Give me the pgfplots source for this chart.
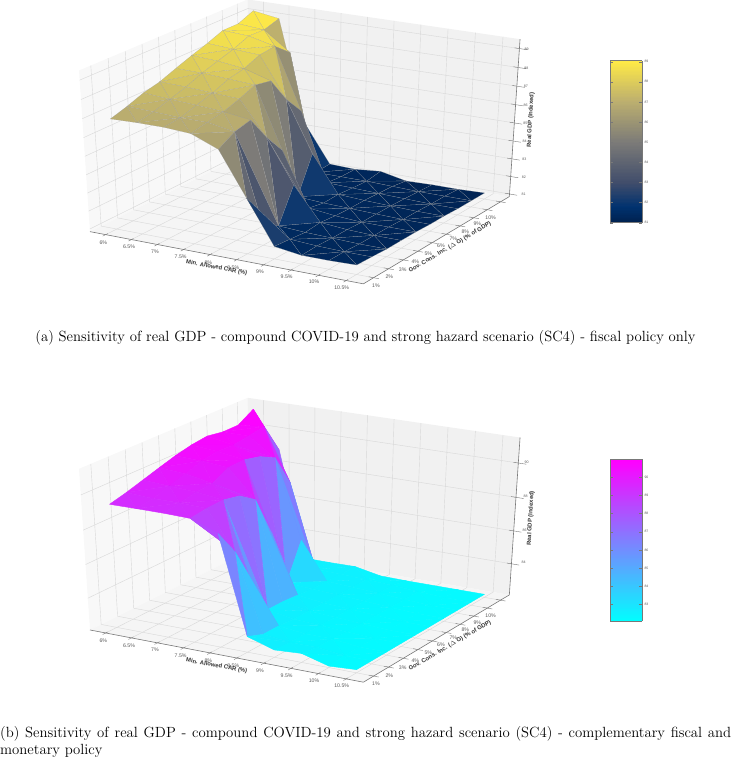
\documentclass[border=0pt]{standalone}
\usepackage{fontspec}
\usepackage{pgfplots}
\usepackage{pgfplotstable}
\pgfplotsset{compat=1.18}
\newfontfamily\lsans{Liberation Sans}
\definecolor{gridc}{RGB}{216,216,216}
\definecolor{edgec}{RGB}{120,120,120}
\definecolor{labc}{RGB}{90,90,90}
\definecolor{paneL}{RGB}{248,248,248}
\definecolor{paneF}{RGB}{245,245,245}
\definecolor{paneB}{RGB}{241,241,241}
\pgfplotsset{
  colormap={cividisc}{rgb255(0)=(0,32,77) rgb255(10)=(0,50,111) rgb255(25)=(65,77,107) rgb255(50)=(124,123,120) rgb255(75)=(188,175,111) rgb255(100)=(255,234,70)},
  colormap={coolc}{rgb255(0)=(0,255,255) rgb255(100)=(255,0,255)},
  page/.style={at={(0,0)},anchor=south west,scale only axis,width=731pt,height=760pt,
    xmin=0,xmax=731,ymin=0,ymax=760,hide axis,clip=false},
  cb/.style={colorbar sampled,colorbar style={samples=120,at={(#1)},anchor=south west,width=32pt,height=162pt,
    axis line style={draw=edgec,line width=.5pt},
    ytick style={draw=edgec,line width=.3pt},
    major tick length=3pt,
    yticklabel style={font=\lsans\fontsize{3.4}{4}\selectfont,text=labc,xshift=-1pt},
    /pgf/number format/assume math mode=true}}
}
\def\PX{px(U(\thisrow{car}),V(\thisrow{gov}),W(\thisrow{gdp}))}
\def\PY{760-\off-py(U(\thisrow{car}),V(\thisrow{gov}),W(\thisrow{gdp}))}
\newcommand\lab[4][0]{\node[rotate=#1,text=labc,font=\lsans\fontsize{5.2}{6}\selectfont,inner sep=0pt] at (axis cs:{60+#2/3},{760-#3/3-\off}) {#4};}
\newcommand\alab[4][0]{\node[rotate=#1,text=black!80,font=\lsans\bfseries\fontsize{5.9}{7}\selectfont,inner sep=0pt] at (axis cs:{60+#2/3},{760-#3/3-\off}) {#4};}
\newcommand\zlab[3]{\node[text=labc,font=\lsans\fontsize{3.6}{4}\selectfont,inner sep=0pt] at (axis cs:{60+#1/3},{760-#2/3-\off}) {#3};}
% box: faces, grid, edges
\newcommand\myframe[3]{% zmin zmax ticks
  \addplot[fill=paneL,draw=none] table[x expr=\PX,y expr=\PY,row sep=\\]{car gov gdp\\ 5.693 .328 #1\\ 5.693 10.672 #1\\ 5.693 10.672 #2\\ 5.693 .328 #2\\ 5.693 .328 #1\\};
  \addplot[fill=paneB,draw=none] table[x expr=\PX,y expr=\PY,row sep=\\]{car gov gdp\\ 5.693 10.672 #1\\ 10.807 10.672 #1\\ 10.807 10.672 #2\\ 5.693 10.672 #2\\ 5.693 10.672 #1\\};
  \addplot[fill=paneF,draw=none] table[x expr=\PX,y expr=\PY,row sep=\\]{car gov gdp\\ 5.693 .328 #1\\ 10.807 .328 #1\\ 10.807 10.672 #1\\ 5.693 10.672 #1\\ 5.693 .328 #1\\};
  \pgfplotsinvokeforeach{6,6.5,7,7.5,8,8.5,9,9.5,10,10.5}{
    \addplot[gridc,line width=.4pt] table[x expr=\PX,y expr=\PY,row sep=\\]{car gov gdp\\ ##1 .328 #1\\ ##1 10.672 #1\\ ##1 10.672 #2\\};
    \addplot[edgec,line width=.4pt] table[x expr=\PX,y expr=\PY,row sep=\\]{car gov gdp\\ ##1 .15 #1\\ ##1 .45 #1\\};
  }
  \pgfplotsinvokeforeach{1,2,3,4,5,6,7,8,9,10}{
    \addplot[gridc,line width=.4pt] table[x expr=\PX,y expr=\PY,row sep=\\]{car gov gdp\\ 10.807 ##1 #1\\ 5.693 ##1 #1\\ 5.693 ##1 #2\\};
    \addplot[edgec,line width=.4pt] table[x expr=\PX,y expr=\PY,row sep=\\]{car gov gdp\\ 10.9 ##1 #1\\ 10.72 ##1 #1\\};
  }
  \pgfplotsinvokeforeach{#3}{
    \addplot[gridc,line width=.4pt] table[x expr=\PX,y expr=\PY,row sep=\\]{car gov gdp\\ 5.693 .328 ##1\\ 5.693 10.672 ##1\\ 10.807 10.672 ##1\\};
    \addplot[edgec,line width=.4pt] table[x expr=\PX,y expr=\PY,row sep=\\]{car gov gdp\\ 10.72 10.672 ##1\\ 10.95 10.672 ##1\\};
  }
  \addplot[edgec,line width=.6pt] table[x expr=\PX,y expr=\PY,row sep=\\]{car gov gdp\\ 5.693 .328 #1\\ 10.807 .328 #1\\ 10.807 10.672 #1\\ 10.807 10.672 #2\\};
}
\newcommand\mytlabels{
  \lab{130}{727}{6\%}\lab{207}{741}{6.5\%}\lab{285}{755}{7\%}\lab{362}{771}{7.5\%}\lab{445}{787}{8\%}
  \lab{520}{803}{8.5\%}\lab{600}{816}{9\%}\lab{680}{831}{9.5\%}\lab{762}{846}{10\%}\lab{845}{862}{10.5\%}
  \lab{948}{856}{1\%}\lab{988}{831}{2\%}\lab{1028}{808}{3\%}\lab{1066}{786}{4\%}\lab{1105}{762}{5\%}
  \lab{1143}{738}{6\%}\lab{1180}{717}{7\%}\lab{1216}{694}{8\%}\lab{1252}{672}{9\%}\lab{1292}{652}{10\%}
  \alab[-10.5]{470}{803}{Min. Allowed CAR (\%)}
  \alab[30.5]{1170}{742}{Gov. Cons. Inc. ($\Delta$ G) (\% of GDP)}
  \alab[87]{1412}{360}{Real GDP (Indexed)}
}
\def\tris{
91 81 90\\ 80 81 90\\ 81 91 92\\ 81 82 92\\ 93 83 92\\ 82 83 92\\ 83 93 94\\ 83 84 94\\ 95 85 94\\ 84 85 94\\ 85 95 96\\ 85 86 96\\ 97 87 96\\ 86 87 96\\ 87 97 98\\ 87 88 98\\ 99 89 98\\ 88 89 98\\
70 80 81\\ 70 71 81\\ 82 72 81\\ 71 72 81\\ 72 82 83\\ 72 73 83\\ 84 74 83\\ 73 74 83\\ 74 84 85\\ 74 75 85\\ 86 76 85\\ 75 76 85\\ 76 86 87\\ 76 77 87\\ 88 78 87\\ 77 78 87\\ 78 88 89\\ 78 79 89\\
71 61 70\\ 60 61 70\\ 61 71 72\\ 61 62 72\\ 73 63 72\\ 62 63 72\\ 63 73 74\\ 63 64 74\\ 75 65 74\\ 64 65 74\\ 65 75 76\\ 65 66 76\\ 77 67 76\\ 66 67 76\\ 67 77 78\\ 67 68 78\\ 79 69 78\\ 68 69 78\\
50 60 61\\ 50 51 61\\ 62 52 61\\ 51 52 61\\ 52 62 63\\ 52 53 63\\ 64 54 63\\ 53 54 63\\ 54 64 65\\ 54 55 65\\ 66 56 65\\ 55 56 65\\ 56 66 67\\ 56 57 67\\ 68 58 67\\ 57 58 67\\ 58 68 69\\ 58 59 69\\
51 41 50\\ 40 41 50\\ 41 51 52\\ 41 42 52\\ 53 43 52\\ 42 43 52\\ 43 53 54\\ 43 44 54\\ 55 45 54\\ 44 45 54\\ 45 55 56\\ 45 46 56\\ 57 47 56\\ 46 47 56\\ 47 57 58\\ 47 48 58\\ 59 49 58\\ 48 49 58\\
30 40 41\\ 30 31 41\\ 42 32 41\\ 31 32 41\\ 32 42 43\\ 32 33 43\\ 44 34 43\\ 33 34 43\\ 34 44 45\\ 34 35 45\\ 46 36 45\\ 35 36 45\\ 36 46 47\\ 36 37 47\\ 48 38 47\\ 37 38 47\\ 38 48 49\\ 38 39 49\\
31 21 30\\ 20 21 30\\ 21 31 32\\ 21 22 32\\ 33 23 32\\ 22 23 32\\ 23 33 34\\ 23 24 34\\ 35 25 34\\ 24 25 34\\ 25 35 36\\ 25 26 36\\ 37 27 36\\ 26 27 36\\ 27 37 38\\ 27 28 38\\ 39 29 38\\ 28 29 38\\
10 20 21\\ 10 11 21\\ 22 12 21\\ 11 12 21\\ 12 22 23\\ 12 13 23\\ 24 14 23\\ 13 14 23\\ 14 24 25\\ 14 15 25\\ 26 16 25\\ 15 16 25\\ 16 26 27\\ 16 17 27\\ 28 18 27\\ 17 18 27\\ 18 28 29\\ 18 19 29\\
11 1 10\\ 0 1 10\\ 1 11 12\\ 1 2 12\\ 13 3 12\\ 2 3 12\\ 3 13 14\\ 3 4 14\\ 15 5 14\\ 4 5 14\\ 5 15 16\\ 5 6 16\\ 17 7 16\\ 6 7 16\\ 7 17 18\\ 7 8 18\\ 19 9 18\\ 8 9 18\\
}
\pgfplotstableread[row sep=\\]{
car gov gdp\\
6 1 86.86\\ 6.5 1 86.90\\ 7 1 86.90\\ 7.5 1 86.81\\ 8 1 86.23\\ 8.5 1 83.89\\ 9 1 81.54\\ 9.5 1 81.33\\ 10 1 81.33\\ 10.5 1 81.37\\
6 2 87.12\\ 6.5 2 87.07\\ 7 2 86.99\\ 7.5 2 86.99\\ 8 2 86.73\\ 8.5 2 81.97\\ 9 2 81.46\\ 9.5 2 81.37\\ 10 2 81.33\\ 10.5 2 81.33\\
6 3 87.44\\ 6.5 3 87.33\\ 7 3 87.25\\ 7.5 3 87.14\\ 8 3 86.94\\ 8.5 3 81.46\\ 9 3 81.37\\ 9.5 3 81.33\\ 10 3 81.28\\ 10.5 3 81.28\\
6 4 87.64\\ 6.5 4 87.59\\ 7 4 87.50\\ 7.5 4 87.42\\ 8 4 85.60\\ 8.5 4 83.27\\ 9 4 81.46\\ 9.5 4 81.33\\ 10 4 81.28\\ 10.5 4 81.28\\
6 5 87.97\\ 6.5 5 87.94\\ 7 5 87.85\\ 7.5 5 87.76\\ 8 5 84.48\\ 8.5 5 81.54\\ 9 5 81.37\\ 9.5 5 81.28\\ 10 5 81.28\\ 10.5 5 81.28\\
6 6 88.28\\ 6.5 6 88.20\\ 7 6 88.02\\ 7.5 6 87.59\\ 8 6 81.46\\ 8.5 6 81.37\\ 9 6 81.33\\ 9.5 6 81.28\\ 10 6 81.24\\ 10.5 6 81.24\\
6 7 88.56\\ 6.5 7 88.46\\ 7 7 88.37\\ 7.5 7 86.21\\ 8 7 83.44\\ 8.5 7 81.41\\ 9 7 81.33\\ 9.5 7 81.28\\ 10 7 81.24\\ 10.5 7 81.24\\
6 8 88.89\\ 6.5 8 88.80\\ 7 8 88.46\\ 7.5 8 85.17\\ 8 8 81.37\\ 8.5 8 81.33\\ 9 8 81.28\\ 9.5 8 81.24\\ 10 8 81.20\\ 10.5 8 81.20\\
6 9 88.89\\ 6.5 9 88.77\\ 7 9 87.76\\ 7.5 9 81.28\\ 8 9 81.28\\ 8.5 9 81.28\\ 9 9 81.24\\ 9.5 9 81.20\\ 10 9 81.20\\ 10.5 9 81.20\\
6 10 89.24\\ 6.5 10 89.02\\ 7 10 83.44\\ 7.5 10 81.33\\ 8 10 81.28\\ 8.5 10 81.41\\ 9 10 81.11\\ 9.5 10 81.15\\ 10 10 81.15\\ 10.5 10 81.20\\
}\taba
\pgfplotstableread[row sep=\\]{
car gov gdp\\
6 1 89.34\\ 6.5 1 89.35\\ 7 1 89.35\\ 7.5 1 89.31\\ 8 1 88.73\\ 8.5 1 83.01\\ 9 1 82.51\\ 9.5 1 82.61\\ 10 1 82.16\\ 10.5 1 82.26\\
6 2 89.58\\ 6.5 2 89.49\\ 7 2 89.49\\ 7.5 2 89.44\\ 8 2 87.23\\ 8.5 2 82.63\\ 9 2 82.45\\ 9.5 2 82.45\\ 10 2 82.26\\ 10.5 2 82.26\\
6 3 89.87\\ 6.5 3 89.77\\ 7 3 89.68\\ 7.5 3 89.48\\ 8 3 84.89\\ 8.5 3 82.63\\ 9 3 82.45\\ 9.5 3 82.45\\ 10 3 82.26\\ 10.5 3 82.26\\
6 4 90.16\\ 6.5 4 90.05\\ 7 4 89.75\\ 7.5 4 89.28\\ 8 4 82.82\\ 8.5 4 82.54\\ 9 4 82.45\\ 9.5 4 82.35\\ 10 4 82.26\\ 10.5 4 82.26\\
6 5 90.44\\ 6.5 5 90.38\\ 7 5 90.24\\ 7.5 5 88.64\\ 8 5 82.82\\ 8.5 5 82.54\\ 9 5 82.45\\ 9.5 5 82.35\\ 10 5 82.26\\ 10.5 5 82.26\\
6 6 90.65\\ 6.5 6 90.52\\ 7 6 90.27\\ 7.5 6 86.30\\ 8 6 82.73\\ 8.5 6 82.54\\ 9 6 82.45\\ 9.5 6 82.35\\ 10 6 82.26\\ 10.5 6 82.26\\
6 7 90.77\\ 6.5 7 90.48\\ 7 7 90.05\\ 7.5 7 82.73\\ 8 7 82.63\\ 8.5 7 82.54\\ 9 7 82.45\\ 9.5 7 82.35\\ 10 7 82.26\\ 10.5 7 82.26\\
6 8 90.62\\ 6.5 8 90.61\\ 7 8 89.58\\ 7.5 8 84.89\\ 8 8 82.63\\ 8.5 8 82.54\\ 9 8 82.45\\ 9.5 8 82.35\\ 10 8 82.26\\ 10.5 8 82.26\\
6 9 90.63\\ 6.5 9 90.77\\ 7 9 87.70\\ 7.5 9 82.63\\ 8 9 82.59\\ 8.5 9 82.54\\ 9 9 82.45\\ 9.5 9 82.35\\ 10 9 82.26\\ 10.5 9 82.26\\
6 10 91.18\\ 6.5 10 88.99\\ 7 10 82.59\\ 7.5 10 82.58\\ 8 10 82.60\\ 8.5 10 82.29\\ 9 10 82.26\\ 9.5 10 82.26\\ 10 10 82.26\\ 10.5 10 82.26\\
}\tabb
\begin{document}
\begin{tikzpicture}[declare function={
    U(\p)=0.06+0.88*(\p-6)/4.5;
    V(\p)=0.065+0.87*(\p-1)/9;
    pd(\p,\q,\r)=1-0.04609*\p+0.07996*\q-0.05008*\r;
    px(\p,\q,\r)=(778.1*\p+525.6*\q-35.85*\r+90)/pd(\p,\q,\r)/3+60;
    py(\p,\q,\r)=(117.3*\p-202.6*\q-494.1*\r+695)/pd(\p,\q,\r)/3;
  }]
\path[use as bounding box] (0,0) rectangle (731pt,760pt);
\def\off{0}
\begin{axis}[page,colormap name=cividisc,point meta min=81,point meta max=89.05,
  cb={0.8345,0.707},colorbar style={ytick={81,...,89}},
  declare function={W(\p)=(\p-80.85)/8.643;}]
  \myframe{80.85}{89.493}{81,82,83,84,85,86,87,88,89}
  \addplot[patch,shader=faceted,faceted color=gray!75!white,line width=.06pt,table/row sep=\\,patch table/.expand once={\tris}]
    table[row sep=\\,x expr=\PX,y expr=\PY,meta=gdp,point meta=explicit]{\taba};
  \mytlabels
  \zlab{1400}{147}{89}\zlab{1399}{204}{88}\zlab{1398}{260}{87}\zlab{1397}{316}{86}\zlab{1396}{370}{85}
  \zlab{1394}{424}{84}\zlab{1393}{478}{83}\zlab{1392}{531}{82}\zlab{1391}{582}{81}
  \node[font=\fontsize{14.75}{17}\selectfont,inner sep=0pt] at (axis cs:365.5,422)
    {(a) Sensitivity of real GDP - compound COVID-19 and strong hazard scenario (SC4) - fiscal policy only};
\end{axis}
\def\off{398.33}
\begin{axis}[page,colormap name=coolc,point meta min=82.1,point meta max=91,
  cb={0.8345,0.183},colorbar style={ytick={83,...,90}},
  declare function={W(\p)=(\p-82.07)/9.39;}]
  \myframe{82.07}{91.46}{84,86,88,90}
  \addplot[patch,shader=flat mean,table/row sep=\\,patch table/.expand once={\tris}]
    table[row sep=\\,x expr=\PX,y expr=\PY,meta=gdp,point meta=explicit]{\tabb};
  \mytlabels
  \zlab{1400}{193}{90}\zlab{1397}{295}{88}\zlab{1394}{395}{86}\zlab{1391}{493}{84}
  \node[font=\fontsize{14.75}{17}\selectfont,inner sep=0pt,anchor=north west,text width=731pt,align=justify] at (axis cs:0,34)
    {(b) Sensitivity of real GDP - compound COVID-19 and strong hazard scenario (SC4) - complementary fiscal and\linebreak monetary policy};
\end{axis}
\end{tikzpicture}
\end{document}
